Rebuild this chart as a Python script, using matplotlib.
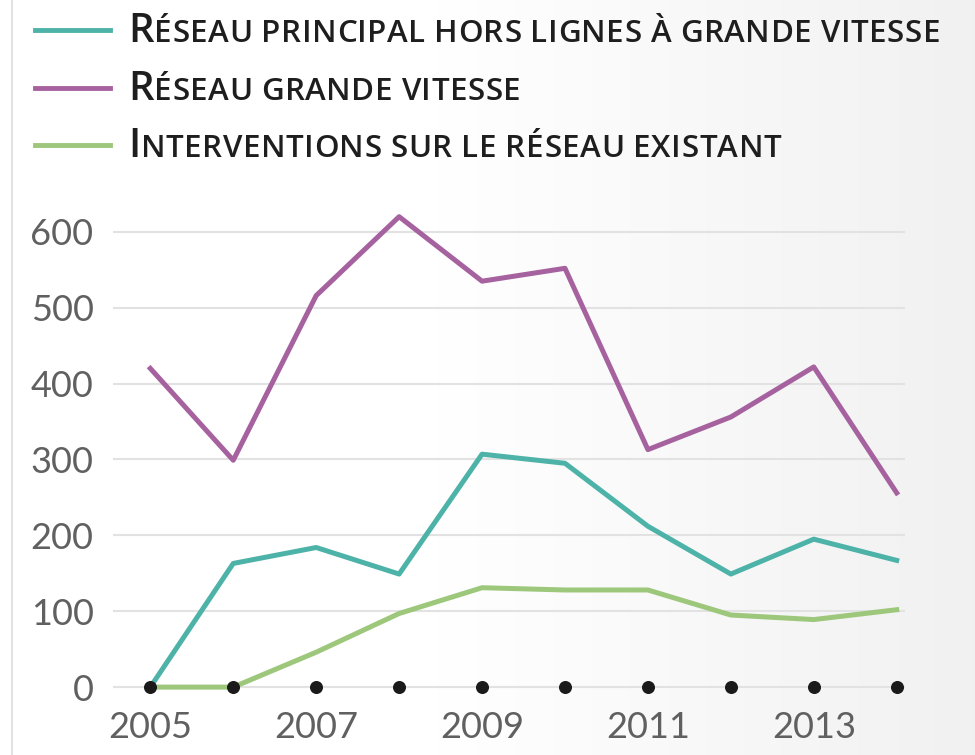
import matplotlib.pyplot as plt
import numpy as np

annees = [2005, 2006, 2007, 2008, 2009, 2010, 2011, 2012, 2013, 2014]
principal = [0, 163, 184, 149, 307, 295, 212, 149, 195, 167]
grande_vitesse = [420, 299, 516, 620, 535, 552, 313, 356, 422, 256]
interventions = [0, 0, 46, 97, 131, 128, 128, 95, 89, 102]
annees_affichees = [2005, 2007, 2009, 2011, 2013]
graduations = [0, 100, 200, 300, 400, 500, 600]

legende = ["Réseau principal hors lignes à grande vitesse",
           "Réseau grande vitesse",
           "Interventions sur le réseau existant"]
couleurs = ["#4db3a8", "#a6619f", "#9dc77b"]

W, H = 975, 755
fig = plt.figure(figsize=(W / 100, H / 100), dpi=100)
plt.rcParams['font.family'] = ['Lato', 'DejaVu Sans']

# fond : blanc à gauche, gris très clair à droite
fond = fig.add_axes([0, 0, 1, 1], zorder=-10)
t = np.linspace(0, 1, 400)
g = np.clip((t - 0.45) / 0.55, 0, 1)
val = 1 - 0.055 * g
img = np.dstack([val, val, val]).repeat(2, axis=0)
fond.imshow(img, aspect='auto', extent=[0, 1, 0, 1])
fond.axvline(12 / W, color='#e2e2e2', lw=1.5)
fond.set_axis_off()

ax = fig.add_axes([113 / W, 1 - 700 / H, (905 - 113) / W, (700 - 200) / H])
ax.set_facecolor('none')
for s in ax.spines.values():
    s.set_visible(False)

ax.plot(annees, principal, color=couleurs[0], lw=3.6, clip_on=False, zorder=3)
ax.plot(annees, grande_vitesse, color=couleurs[1], lw=3.6, clip_on=False, zorder=3)
ax.plot(annees, interventions, color=couleurs[2], lw=3.6, clip_on=False, zorder=3)
ax.scatter(annees, np.zeros(len(annees)), s=70, color='#1a1a1a', zorder=4, clip_on=False)

ax.set_xlim(2004.55, 2014.1)
ax.set_ylim(-17, 642)
ax.set_yticks(graduations)
ax.set_xticks(annees_affichees)
ax.grid(axis='y', color='#e2e2e2', lw=1.5)
ax.set_axisbelow(True)
ax.tick_params(length=0, labelsize=26, labelcolor='#606060', pad=14)
ax.tick_params(axis='x', pad=8)

# légende en petites capitales, lettre par lettre avec un léger interlettrage
renderer = fig.canvas.get_renderer()


def petites_capitales(texte, x, y, grand=29, petit=22.5, espace=0.5):
    for c in texte:
        taille = grand if c.isupper() else petit
        txt = fig.text(x / W, 1 - y / H, c.upper(), fontsize=taille, family='Open Sans',
                       fontweight='semibold', color='#1e1e1e', va='baseline', ha='left')
        if c == ' ':
            x += taille * 0.26 * 100 / 72 + espace
        else:
            x = txt.get_window_extent(renderer).x1 + espace


for i, (lab, coul) in enumerate(zip(legende, couleurs)):
    yc = 30 + i * 57.5
    fond.plot([35 / W, 110 / W], [1 - yc / H, 1 - yc / H], color=coul, lw=3.5,
              transform=fond.transAxes)
    petites_capitales(lab, 128, yc + 12)

fond.set_xlim(0, 1)
fond.set_ylim(0, 1)
fig.savefig('out.png', dpi=100)
